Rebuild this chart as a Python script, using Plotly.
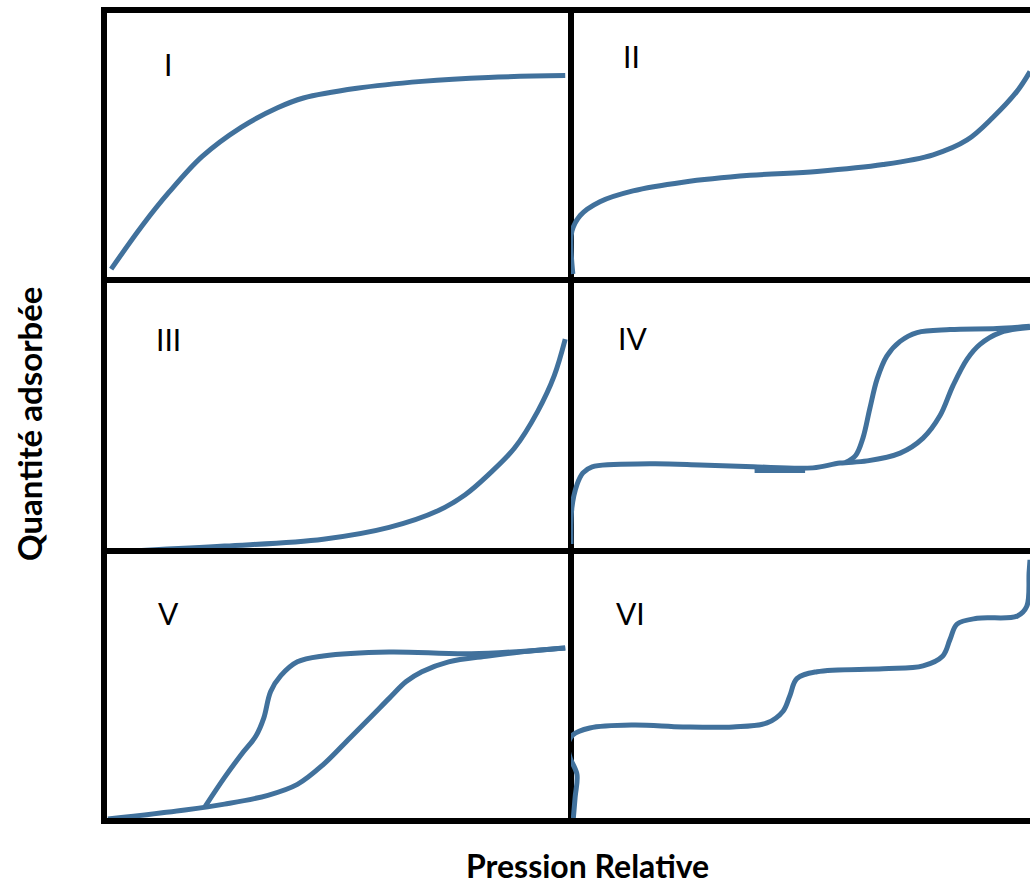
import plotly.graph_objects as go

# six types d'isothermes d'adsorption, valeurs lues sur le dessin
# x : pression relative (0..1), y : quantite adsorbee (0..1 de la hauteur du cadre)

type1_x = [0.009, 0.077, 0.135, 0.206, 0.291, 0.370, 0.426, 0.542, 0.683, 0.827, 0.994]
type1_y = [0.030, 0.196, 0.322, 0.456, 0.567, 0.641, 0.678, 0.715, 0.741, 0.756, 0.763]

type2_x = [0.004, 0.000, 0.002, 0.020, 0.063, 0.135, 0.244, 0.390, 0.536, 0.680, 0.789,
           0.863, 0.919, 0.972, 1.000]
type2_y = [0.011, 0.111, 0.174, 0.233, 0.285, 0.326, 0.359, 0.385, 0.400, 0.426, 0.463,
           0.519, 0.604, 0.704, 0.778]

type3_x = [0.006, 0.255, 0.469, 0.612, 0.719, 0.777, 0.827, 0.884, 0.934, 0.970, 0.994]
type3_y = [-0.015, 0.007, 0.033, 0.077, 0.140, 0.199, 0.273, 0.373, 0.509, 0.642, 0.779]

# type IV : adsorption puis desorption (boucle d'hysteresis)
type4_ads_x = [0.000, 0.002, 0.013, 0.026, 0.046, 0.172, 0.281, 0.397, 0.527, 0.586, 0.645,
               0.717, 0.767, 0.804, 0.832, 0.863, 0.891, 0.935, 1.000]
type4_ads_y = [0.015, 0.151, 0.236, 0.280, 0.303, 0.314, 0.310, 0.303, 0.299, 0.317, 0.325,
               0.354, 0.410, 0.494, 0.605, 0.705, 0.760, 0.804, 0.823]
type4_des_x = [1.000, 0.928, 0.826, 0.754, 0.717, 0.688, 0.667, 0.651, 0.636, 0.620, 0.598]
type4_des_y = [0.827, 0.819, 0.815, 0.804, 0.771, 0.716, 0.631, 0.520, 0.410, 0.345, 0.319]
type4_bavure_x = [0.400, 0.510]
type4_bavure_y = [0.293, 0.293]

# type V : meme principe
type5_ads_x = [0.002, 0.169, 0.255, 0.349, 0.413, 0.469, 0.527, 0.576, 0.612, 0.649, 0.683,
               0.741, 0.827, 0.897, 0.994]
type5_ads_y = [-0.004, 0.030, 0.052, 0.085, 0.126, 0.200, 0.300, 0.385, 0.448, 0.511, 0.548,
               0.585, 0.607, 0.622, 0.637]
type5_des_x = [0.994, 0.790, 0.612, 0.469, 0.413, 0.377, 0.355, 0.340, 0.323, 0.291, 0.255, 0.212]
type5_des_y = [0.637, 0.615, 0.622, 0.607, 0.585, 0.533, 0.474, 0.374, 0.307, 0.237, 0.152, 0.041]

type6_x = [0.004, 0.009, 0.013, -0.002, -0.007, 0.004, 0.041, 0.135, 0.244, 0.353, 0.427,
           0.462, 0.477, 0.492, 0.536, 0.680, 0.767, 0.810, 0.826, 0.841, 0.885, 0.972,
           0.993, 0.998, 1.000]
type6_y = [-0.022, 0.078, 0.163, 0.226, 0.274, 0.311, 0.337, 0.348, 0.341, 0.341, 0.356,
           0.400, 0.459, 0.522, 0.548, 0.559, 0.570, 0.607, 0.670, 0.726, 0.748, 0.756,
           0.793, 0.919, 0.967]

labels = ["I", "II", "III", "IV", "V", "VI"]

W, H = 1030, 886
BLUE = "#41719C"
LW = 6  # epaisseur du cadre

# cadres en pixels (bord interieur des traits noirs)
cols = [(107, 568), (571, 1030)]
rows = [(13, 277), (280, 548), (551, 818)]

curves = [
    [(type1_x, type1_y)],
    [(type2_x, type2_y)],
    [(type3_x, type3_y)],
    [(type4_ads_x, type4_ads_y), (type4_des_x, type4_des_y), (type4_bavure_x, type4_bavure_y)],
    [(type5_ads_x, type5_ads_y), (type5_des_x, type5_des_y)],
    [(type6_x, type6_y)],
]

# position des chiffres romains (pixels)
label_pos = [(168, 64), (631, 56), (168, 339), (632, 338), (168, 613), (630, 613)]

fig = go.Figure()
layout = {}
for i in range(6):
    r, c = divmod(i, 2)
    n = "" if i == 0 else str(i + 1)
    x0, x1 = cols[c]
    y0, y1 = rows[r]
    layout["xaxis" + n] = dict(
        domain=[x0 / W, x1 / W], anchor="y" + n, range=[0, 1],
        showline=True, linecolor="black", linewidth=LW, mirror=(r == 0),
        showgrid=False, zeroline=False, showticklabels=False, ticks="",
        layer="below traces", fixedrange=True)
    layout["yaxis" + n] = dict(
        domain=[1 - y1 / H, 1 - y0 / H], anchor="x" + n, range=[0, 1],
        showline=(c == 0), linecolor="black", linewidth=LW, mirror=True,
        showgrid=False, zeroline=False, showticklabels=False, ticks="",
        layer="below traces", fixedrange=True)
    for k, (xs, ys) in enumerate(curves[i]):
        fig.add_trace(go.Scatter(
            x=xs, y=ys, xaxis="x" + n, yaxis="y" + n, mode="lines",
            line=dict(color=BLUE, width=5 if k < 2 else 7, shape="spline", smoothing=1.0),
            hoverinfo="skip", showlegend=False))

annotations = []
for lab, (px, py) in zip(labels, label_pos):
    annotations.append(dict(
        text=lab, xref="paper", yref="paper", x=px / W, y=1 - py / H,
        xanchor="center", yanchor="middle", showarrow=False,
        font=dict(family="Lato", size=30, color="black")))

annotations.append(dict(
    text="<b>Quantité adsorbée</b>", xref="paper", yref="paper",
    x=29 / W, y=1 - 424 / H, textangle=-90, xanchor="center", yanchor="middle",
    showarrow=False, font=dict(family="Lato", size=33, color="black")))
annotations.append(dict(
    text="<b>Pression Relative</b>", xref="paper", yref="paper",
    x=587 / W, y=1 - 865 / H, xanchor="center", yanchor="middle",
    showarrow=False, font=dict(family="Lato", size=32, color="black")))

fig.update_layout(
    width=W, height=H,
    margin=dict(l=0, r=0, t=0, b=0),
    paper_bgcolor="white", plot_bgcolor="white",
    annotations=annotations,
    **layout)

# la page ne doit pas ajouter de marge autour de la figure
fig.write_html("out.html", config={"displayModeBar": False},
               post_script="document.body.style.margin = '0';")
